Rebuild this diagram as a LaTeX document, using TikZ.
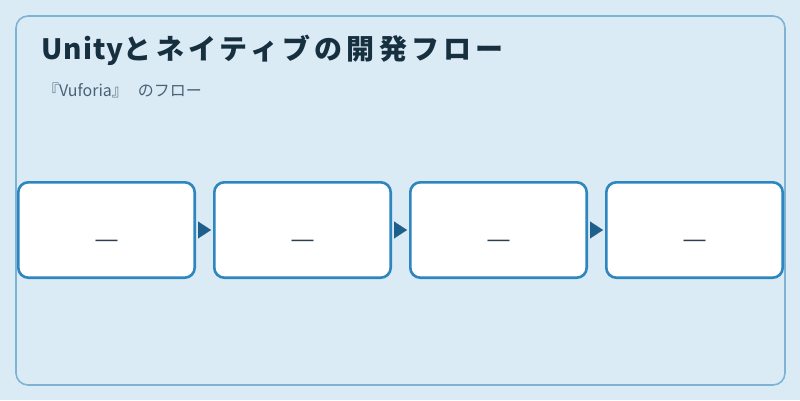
\documentclass[tikz,border=0pt]{standalone}
\usepackage{fontspec}
\setmainfont{Noto Sans CJK JP}
\newfontfamily\titlelat[LetterSpace=4]{Noto Sans CJK JP}
\newfontfamily\titlecjk[LetterSpace=15]{Noto Sans CJK JP}
\newfontfamily\dashfont{Liberation Sans}
\usetikzlibrary{arrows.meta}
\definecolor{bgc}{HTML}{DBEBF6}
\definecolor{framec}{HTML}{7FB3D5}
\definecolor{boxc}{HTML}{2E86C1}
\definecolor{arrc}{HTML}{1F5F8B}
\definecolor{titlec}{HTML}{17303F}
\definecolor{subc}{HTML}{4A6275}
\definecolor{dashc}{HTML}{2C3E50}
\tikzset{
  stepbox/.style={draw=boxc, line width=2.6pt, fill=white, rounded corners=10pt,
    minimum width=176.4pt, minimum height=95.4pt, inner sep=0pt,
    font=\dashfont\fontsize{22}{24}\selectfont, text=dashc,
    text height=33pt, text depth=0pt},
  flowarrow/.style={arrc, line width=0.1pt, -{Triangle[length=13pt,width=17pt]}, shorten >=2pt, shorten <=2pt},
}
\begin{document}
\begin{tikzpicture}[x=1pt,y=-1pt]
\fill[bgc] (0,0) rectangle (800,400);
\useasboundingbox (0,0) rectangle (800,400);
\draw[framec, line width=1.6pt, rounded corners=12pt] (16,16) rectangle (785,385);
\node[anchor=base west, text=titlec, font=\fontsize{28}{30}\selectfont\bfseries, inner sep=0pt] (title) at (41,59) {{\titlelat\bfseries Unity}{\titlecjk\bfseries とネイティブの開発フロー}};
\node[anchor=base west, text=subc, font=\fontsize{16}{18}\selectfont, inner sep=0pt] (sub) at (43,96) {『Vuforia』\hspace{10pt}のフロー};
\foreach \i/\x in {1/106.5,2/302.5,3/498.5,4/694.5}{
  \node[stepbox] (b\i) at (\x,230) {—};
}
\draw[flowarrow] (b1.east) -- (b2.west);
\draw[flowarrow] (b2.east) -- (b3.west);
\draw[flowarrow] (b3.east) -- (b4.west);
\end{tikzpicture}
\end{document}
